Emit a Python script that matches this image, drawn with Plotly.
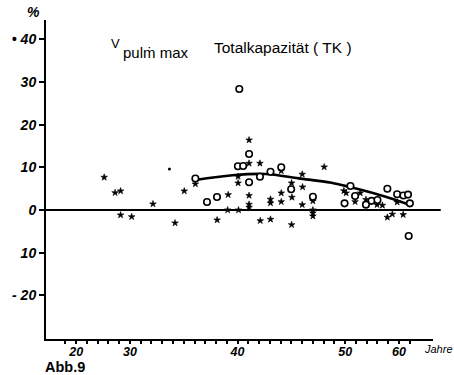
import plotly.graph_objects as go

# --- data (x in axis units: one minor tick = 1, label "40" at 40, "50" at 50) ---
filled_x = [27.61, 28.62, 29.13, 29.13, 30.16, 32.14, 34.19, 35.05, 36.08, 38.10,
            39.13, 39.08, 40.09, 40.05, 40.05, 41.07, 41.07, 41.07, 41.07, 41.07,
            42.08, 42.11, 43.06, 43.06, 43.06, 44.06, 44.06, 44.06, 45.02, 45.05,
            45.02, 46.01, 46.04, 46.01, 47.0, 47.0, 47.0, 47.0, 48.05, 49.88,
            50.09, 51.40, 50.92, 51.93, 52.96, 53.46, 54.83, 53.92, 54.38, 55.39]
filled_y = [7.66, 4.05, 4.45, -1.17, -1.57, 1.41, -3.04, 4.45, 6.09, -2.34,
            3.58, 0.0, 0.0, 7.85, 6.32, 16.39, 10.94, 3.40, 1.33, 0.63,
            10.94, -2.51, 2.53, 1.64, -2.18, 9.18, 3.98, 1.94, 6.32, 2.97,
            -3.44, 8.38, 5.39, 1.24, 2.11, 0.0, -0.70, -1.41, 10.07, 4.50,
            3.98, 3.98, 1.94, 2.44, 1.24, 1.10, 1.83, -1.71, -0.98, -1.08]
tiny_x = [33.67]
tiny_y = [9.60]

open_x = [36.08, 37.16, 38.09, 40.03, 40.52, 40.16, 41.07, 41.07, 42.08, 43.06,
          44.06, 44.98, 47.0, 50.49, 50.92, 49.94, 51.93, 52.45, 53.0, 53.92,
          54.83, 55.41, 55.84, 56.01, 55.90]
open_y = [7.38, 1.87, 3.04, 10.26, 10.30, 28.34, 13.11, 6.49, 7.80, 8.97,
          10.02, 4.87, 3.11, 5.62, 3.28, 1.57, 1.26, 2.15, 2.34, 4.99,
          3.68, 3.40, 3.61, 1.57, -6.09]

curve_x = [36.06, 39.54, 42.57, 45.69, 48.72, 50.55, 52.66, 54.50, 56.24]
curve_y = [7.03, 8.13, 8.43, 7.42, 6.39, 5.32, 3.91, 2.51, 0.94]

x_tickvals = [25, 30, 40, 50, 55]
x_ticktext = ["20", "30", "40", "50", "60"]
x_minor_ticks = list(range(24, 57))
y_tickvals = [-20, -10, 0, 10, 20, 30, 40]
y_ticktext = ["- 20", "10", "0", "10", "20", "30", "• 40"]

FONT = "Liberation Sans"

L, T, PW, PH = 41, 20, 392, 319


def px(xp):
    return (xp - L) / PW


def py(yp):
    return 1 - (yp - T) / PH


fig = go.Figure()
fig.add_trace(go.Scatter(x=curve_x, y=curve_y, mode="lines",
                         line=dict(color="black", width=2.6, shape="spline", smoothing=1.0),
                         hoverinfo="skip"))
fig.add_trace(go.Scatter(x=filled_x, y=filled_y, mode="markers",
                         marker=dict(symbol="star", size=5, color="black",
                                     line=dict(width=0.6, color="black"))))
fig.add_trace(go.Scatter(x=tiny_x, y=tiny_y, mode="markers",
                         marker=dict(symbol="circle", size=3, color="black")))
fig.add_trace(go.Scatter(x=open_x, y=open_y, mode="markers",
                         marker=dict(symbol="circle", size=6.5, color="white",
                                     line=dict(width=1.6, color="black"))))

fig.add_shape(type="line", xref="paper", yref="y", x0=0, x1=1.02, y0=0, y1=0,
              line=dict(color="black", width=2))

fig.update_layout(
    width=454, height=375,
    margin=dict(l=L, r=454 - L - PW, t=T, b=375 - T - PH),
    plot_bgcolor="white", paper_bgcolor="white",
    showlegend=False,
    font=dict(family=FONT, color="black"),
    xaxis=dict(range=[22.2, 58.16], showgrid=False, zeroline=False,
               showline=True, linecolor="black", linewidth=2,
               tickmode="array", tickvals=x_tickvals, ticktext=x_ticktext,
               ticks="", ticklen=0,
               tickfont=dict(family=FONT, size=12.5, style="italic", weight="bold"),
               minor=dict(tickmode="array", tickvals=x_minor_ticks, ticks="outside",
                          ticklen=3, tickwidth=1.5, tickcolor="black")),
    yaxis=dict(range=[-30.2, 44.5], showgrid=False, zeroline=False,
               showline=True, linecolor="black", linewidth=2,
               tickmode="array", tickvals=y_tickvals, ticktext=y_ticktext,
               ticks="outside", ticklen=5, tickwidth=1.5, tickcolor="black",
               tickfont=dict(family=FONT, size=14, style="italic", weight="bold")),
)

fig.add_annotation(text="%", xref="paper", yref="paper", x=px(28), y=py(12),
                   xanchor="center", yanchor="middle", showarrow=False,
                   font=dict(family=FONT, size=14, style="italic", weight="bold"))
fig.add_annotation(text="V", xref="paper", yref="paper", x=px(118), y=py(43),
                   xanchor="right", yanchor="middle", showarrow=False,
                   font=dict(family=FONT, size=13))
fig.add_annotation(text="pulṁ max", xref="paper", yref="paper", x=px(117), y=py(53),
                   xanchor="left", yanchor="middle", showarrow=False,
                   font=dict(family=FONT, size=15))
fig.add_annotation(text="Totalkapazität ( TK )", xref="paper", yref="paper",
                   x=px(209), y=py(47),
                   xanchor="left", yanchor="middle", showarrow=False,
                   font=dict(family=FONT, size=15.5))
fig.add_annotation(text="Jahre", xref="paper", yref="paper",
                   x=px(422), y=py(349),
                   xanchor="left", yanchor="middle", showarrow=False,
                   font=dict(family=FONT, size=11, style="italic"))
fig.add_annotation(text="Abb.9", xref="paper", yref="paper",
                   x=px(38), y=py(367),
                   xanchor="left", yanchor="middle", showarrow=False,
                   font=dict(family=FONT, size=14.5, weight="bold"))

fig.write_html("out.html")
